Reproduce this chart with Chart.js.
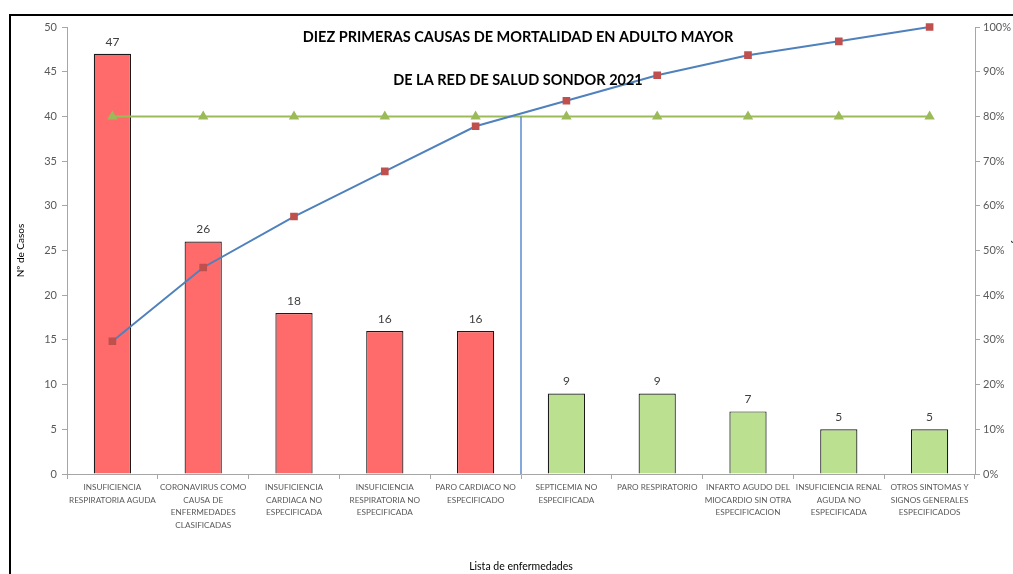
<!DOCTYPE html>
<html>
<head>
<meta charset="utf-8">
<script src="https://cdn.jsdelivr.net/npm/chart.js@4.4.0/dist/chart.umd.min.js"></script>
<style>
  html, body { margin: 0; padding: 0; background: #fff; overflow: hidden; }
  #wrap { position: relative; width: 1013px; height: 574px; overflow: hidden; }
  #chart { position: absolute; left: 0; top: 0; }
  #frame { position: absolute; left: 9px; top: 14px; width: 1100px; height: 700px;
           border-left: 2px solid #000; border-top: 2px solid #000; pointer-events: none; }
</style>
</head>
<body>
<div id="wrap">
  <canvas id="chart" width="1040" height="574"></canvas>
  <div id="frame"></div>
</div>
<script>
/* ---- data ---- */
const categorias = [
    ["INSUFICIENCIA", "RESPIRATORIA AGUDA"],
    ["CORONAVIRUS COMO", "CAUSA DE", "ENFERMEDADES", "CLASIFICADAS"],
    ["INSUFICIENCIA", "CARDIACA NO", "ESPECIFICADA"],
    ["INSUFICIENCIA", "RESPIRATORIA NO", "ESPECIFICADA"],
    ["PARO CARDIACO NO", "ESPECIFICADO"],
    ["SEPTICEMIA NO", "ESPECIFICADA"],
    ["PARO RESPIRATORIO"],
    ["INFARTO AGUDO DEL", "MIOCARDIO SIN OTRA", "ESPECIFICACION"],
    ["INSUFICIENCIA RENAL", "AGUDA NO", "ESPECIFICADA"],
    ["OTROS SINTOMAS Y", "SIGNOS GENERALES", "ESPECIFICADOS"]
];
const casos = [47, 26, 18, 16, 16, 9, 9, 7, 5, 5];
const acumulado = [29.7, 46.2, 57.6, 67.7, 77.8, 83.5, 89.2, 93.7, 96.8, 100];
const meta = [80, 80, 80, 80, 80, 80, 80, 80, 80, 80];
const tituloLineas = [
    "DIEZ PRIMERAS CAUSAS DE MORTALIDAD EN ADULTO MAYOR",
    "DE LA RED DE SALUD SONDOR 2021"
];
const corteIndice = 4.5;   // 80% cut between 5th and 6th cause
const corteValor = 80;

const FONT = "Lato, 'Open Sans', sans-serif";
const GRIS = "#595959";

/* bar labels */
const etiquetasBarras = {
    id: "etiquetasBarras",
    afterDatasetsDraw(chart) {
        const ctx = chart.ctx;
        const meta0 = chart.getDatasetMeta(2);
        ctx.save();
        ctx.font = "12px " + FONT;
        ctx.fillStyle = "#404040";
        ctx.textAlign = "center";
        ctx.textBaseline = "bottom";
        meta0.data.forEach((bar, i) => {
            ctx.fillText(String(casos[i]), bar.x, bar.y - 6);
        });
        ctx.restore();
    }
};

/* vertical cut line at 80% */
const lineaCorte = {
    id: "lineaCorte",
    afterDatasetsDraw(chart) {
        const ctx = chart.ctx;
        const x = chart.scales.x.getPixelForValue(corteIndice);
        const y = chart.scales.y1.getPixelForValue(corteValor);
        ctx.save();
        ctx.strokeStyle = "#5B8BCF";
        ctx.lineWidth = 1.5;
        ctx.beginPath();
        ctx.moveTo(Math.round(x), y);
        ctx.lineTo(Math.round(x), chart.chartArea.bottom);
        ctx.stroke();
        ctx.restore();
    }
};

/* title drawn inside the plot, Excel style */
const tituloInterno = {
    id: "tituloInterno",
    afterDraw(chart) {
        const ctx = chart.ctx;
        const cx = (chart.chartArea.left + chart.chartArea.right) / 2 - 3;
        ctx.save();
        ctx.font = "bold 14.5px " + FONT;
        ctx.fillStyle = "#000";
        ctx.textAlign = "center";
        ctx.textBaseline = "middle";
        ctx.fillText(tituloLineas[0], cx, chart.chartArea.top + 10);
        ctx.fillText(tituloLineas[1], cx, chart.chartArea.top + 53);
        ctx.restore();
    }
};

new Chart(document.getElementById("chart").getContext("2d"), {
    type: "bar",
    data: {
        labels: categorias,
        datasets: [
            {
                type: "line",
                label: "% Acumulado",
                data: acumulado,
                yAxisID: "y1",
                borderColor: "#4F81BD",
                borderWidth: 2,
                tension: 0,
                clip: false,
                pointStyle: "rect",
                pointRadius: 4,
                pointBackgroundColor: "#C0504D",
                pointBorderColor: "#C0504D",
                order: 1
            },
            {
                type: "line",
                label: "80%",
                data: meta,
                yAxisID: "y1",
                borderColor: "#9BBB59",
                borderWidth: 2,
                tension: 0,
                clip: false,
                pointStyle: "triangle",
                pointRadius: 4,
                pointBackgroundColor: "#9BBB59",
                pointBorderColor: "#9BBB59",
                order: 2
            },
            {
                type: "bar",
                label: "Nº de Casos",
                data: casos,
                yAxisID: "y",
                backgroundColor: casos.map((v, i) => i < 5 ? "#FF6B6B" : "#BBE08F"),
                borderColor: "#1a1a1a",
                borderWidth: 1.2,
                categoryPercentage: 1,
                barPercentage: 0.41,
                order: 3
            }
        ]
    },
    options: {
        responsive: false,
        animation: false,
        layout: { padding: { left: 12, right: 15, top: 27, bottom: 0 } },
        plugins: {
            legend: { display: false },
            tooltip: { enabled: false },
            title: { display: false }
        },
        scales: {
            x: {
                offset: true,
                grid: { display: true, drawOnChartArea: false, offset: true, tickLength: 5, color: "#a6a6a6" },
                border: { display: true, color: "#a6a6a6" },
                ticks: {
                    color: GRIS, font: { family: FONT, size: 8.2, lineHeight: 1.55 }, maxRotation: 0, minRotation: 0,
                    autoSkip: false, padding: 2
                },
                title: {
                    display: true, text: "Lista de enfermedades", color: "#000",
                    font: { family: FONT, size: 10.5 }, padding: { top: 0, bottom: 1 }
                },
                afterFit(s) { s.height = 100; }
            },
            y: {
                position: "left",
                min: 0, max: 50,
                ticks: { stepSize: 5, color: GRIS, font: { family: FONT, size: 11 }, padding: 5 },
                grid: { display: true, drawOnChartArea: false, tickLength: 5, color: "#a6a6a6" },
                border: { display: true, color: "#a6a6a6" },
                title: {
                    display: true, text: "Nº de Casos", color: "#000",
                    font: { family: FONT, size: 10 }, padding: { top: 3, bottom: 0 }
                },
                afterFit(s) { s.width = 55; }
            },
            y1: {
                position: "right",
                min: 0, max: 100,
                ticks: {
                    stepSize: 10, color: GRIS, font: { family: FONT, size: 11 }, padding: 3,
                    callback: v => v + "%"
                },
                grid: { display: true, drawOnChartArea: false, tickLength: 5, color: "#a6a6a6" },
                border: { display: true, color: "#a6a6a6" },
                title: {
                    display: true, text: "Porcentaje acumulado", color: "#000",
                    font: { family: FONT, size: 10 }, padding: { top: 3, bottom: 0 }
                },
                afterFit(s) { s.width = 50; }
            }
        }
    },
    plugins: [etiquetasBarras, lineaCorte, tituloInterno]
});
</script>
</body>
</html>
